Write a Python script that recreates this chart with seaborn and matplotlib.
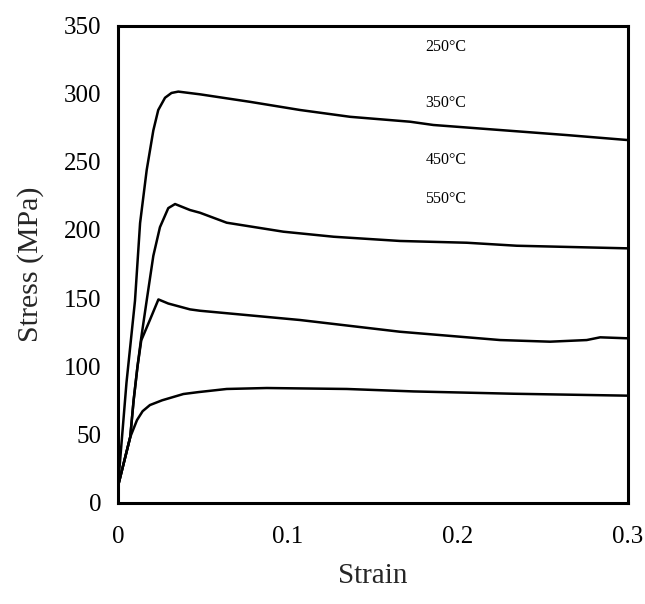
import matplotlib
matplotlib.use("Agg")
import matplotlib.pyplot as plt
import seaborn as sns
import pandas as pd

# ---- data ----
strain_250 = [0, 0.005, 0.010, 0.013, 0.0169, 0.0208, 0.0237, 0.0277, 0.0315, 0.0355, 0.0483,
              0.0777, 0.1072, 0.1367, 0.172, 0.1857, 0.225, 0.2643, 0.2996]
stress_250 = [12, 88, 148, 205, 244, 273, 288, 297, 300.5, 301.5, 299.5,
              294, 288, 283, 279.4, 277, 273.3, 269.6, 266]

strain_350 = [0, 0.0072, 0.0092, 0.0115, 0.0137, 0.0171, 0.0208, 0.0247, 0.0296, 0.0336,
              0.0424, 0.0483, 0.064, 0.0974, 0.127, 0.166, 0.2054, 0.2348, 0.2996]
stress_350 = [12, 48, 75, 100, 121, 150, 181, 202, 216, 219,
              214.6, 212.6, 205.3, 198.7, 195, 191.9, 190.6, 188.4, 186.5]

strain_450 = [0, 0.0072, 0.0092, 0.0115, 0.0137, 0.0188, 0.0238, 0.0296, 0.0424, 0.0483,
              0.1072, 0.166, 0.225, 0.2544, 0.276, 0.2839, 0.2996]
stress_450 = [12, 48, 75, 100, 119, 134, 149, 146, 141.7, 140.7,
              133.9, 125.3, 119.2, 118, 119.2, 121.2, 120.5]

strain_550 = [0, 0.0072, 0.0112, 0.0145, 0.0188, 0.026, 0.0385, 0.0473, 0.064, 0.0876,
              0.1347, 0.174, 0.2329, 0.2996]
stress_550 = [12, 48, 60.5, 67, 71.5, 75, 79.6, 81, 83.3, 84,
              83.3, 81.5, 79.8, 78.4]

temps = ["250°C", "350°C", "450°C", "550°C"]
label_stress = [334, 293, 251, 223]
label_strain = 0.181

x_ticks = [0, 0.1, 0.2, 0.3]
x_ticklabels = ["0", "0.1", "0.2", "0.3"]
y_ticks = [0, 50, 100, 150, 200, 250, 300, 350]

# ---- build long table ----
frames = []
for t, xs, ys in zip(temps,
                     [strain_250, strain_350, strain_450, strain_550],
                     [stress_250, stress_350, stress_450, stress_550]):
    frames.append(pd.DataFrame({"strain": xs, "stress": ys, "temp": t}))
df = pd.concat(frames, ignore_index=True)

sns.set_style("white")
plt.rcParams["font.family"] = ["Liberation Serif", "DejaVu Serif"]

fig = plt.figure(figsize=(6.45, 6.04), dpi=100)
ax = fig.add_axes([118/645, 1 - 502.5/604, (627.5-118)/645, (502.5-25.5)/604])

sns.lineplot(data=df, x="strain", y="stress", hue="temp", units="temp",
             estimator=None, sort=False,
             palette={t: "black" for t in temps}, linewidth=1.8,
             legend=False, ax=ax)

for t, yv in zip(temps, label_stress):
    ax.text(label_strain, yv, t, fontsize=11.5, va="center", ha="left", color="black")

ax.set_xlim(0, 0.3)
ax.set_ylim(0, 350)
ax.set_xticks(x_ticks)
ax.set_xticklabels(x_ticklabels)
ax.set_yticks(y_ticks)
ax.set_xlabel("Strain", fontsize=21, labelpad=11)
ax.set_ylabel("Stress (MPa)", fontsize=21.5, labelpad=14)

ax.tick_params(axis="both", which="both", direction="in", length=7, width=2,
               labelsize=18, colors="black", top=False, right=False)
ax.tick_params(axis="x", pad=17)
ax.tick_params(axis="y", pad=12)

for sp in ax.spines.values():
    sp.set_visible(True)
    sp.set_linewidth(2.2)
    sp.set_color("black")

fig.savefig("out.png", dpi=100)
